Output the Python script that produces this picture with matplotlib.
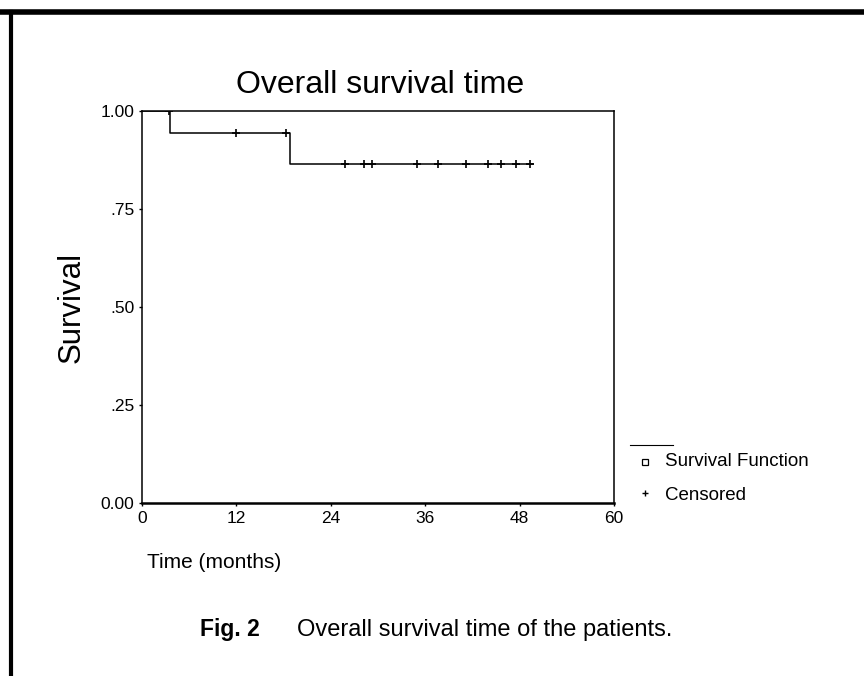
import matplotlib.pyplot as plt
import numpy as np
from matplotlib.lines import Line2D

plt.rcParams['font.family'] = ['Liberation Sans', 'DejaVu Sans']

# Kaplan-Meier steps (time in months, survival)
step_times = [0, 3.6, 18.8, 49.7]
step_surv = [1.0, 0.943, 0.865, 0.865]

# censored observations (months)
censor_times = [3.45, 12.0, 18.3, 25.75, 28.2, 29.25, 35.0, 37.6, 41.2, 44.0, 45.65, 47.6, 49.3]

x_ticks = [0, 12, 24, 36, 48, 60]
y_ticks = [0.0, 0.25, 0.5, 0.75, 1.0]
y_labels = ['0.00', '.25', '.50', '.75', '1.00']


def surv_at(t):
    idx = np.searchsorted(step_times, t, side='right') - 1
    return step_surv[idx]


fig = plt.figure(figsize=(8.64, 6.76), dpi=100)
ax = fig.add_axes([142 / 864, 1 - 503 / 676, 472 / 864, 392 / 676])

ax.step(step_times, step_surv, where='post', color='black', linewidth=1.1)
censor_surv = [surv_at(t) for t in censor_times]
ax.plot(censor_times, censor_surv, linestyle='none', marker='+', color='black',
        markersize=6, markeredgewidth=1.2)

ax.set_xlim(0, 60)
ax.set_ylim(0, 1.0)
ax.set_xticks(x_ticks)
ax.set_yticks(y_ticks)
ax.set_yticklabels(y_labels)
ax.tick_params(direction='out', length=2.5, width=1, labelsize=12.5, pad=3)
for s in ax.spines.values():
    s.set_linewidth(1.1)
ax.spines['bottom'].set_linewidth(1.8)

fig.text(380 / 864, 1 - 93 / 676, 'Overall survival time', fontsize=23, ha='center', va='baseline')
ax.set_ylabel('Survival', fontsize=22.5, labelpad=10)

fig.text(147 / 864, 1 - 568 / 676, 'Time (months)', fontsize=15, va='baseline', ha='left')
fig.text(200 / 864, 1 - 636 / 676, 'Fig. 2', fontsize=16.5, fontweight='bold', va='baseline', ha='left')
fig.text(297 / 864, 1 - 636 / 676, 'Overall survival time of the patients.', fontsize=17,
         va='baseline', ha='left')

# legend drawn by hand
fig.add_artist(Line2D([630 / 864, 673 / 864], [1 - 445 / 676, 1 - 445 / 676],
                      color='black', linewidth=0.8))
fig.add_artist(Line2D([645 / 864], [1 - 462 / 676], marker='s', markersize=4,
                      markerfacecolor='white', markeredgecolor='black', markeredgewidth=0.9))
fig.add_artist(Line2D([645 / 864], [1 - 493 / 676], marker='+', markersize=5,
                      color='black', markeredgewidth=1))
fig.text(665 / 864, 1 - 462 / 676, 'Survival Function', fontsize=13.5, va='center', ha='left')
fig.text(665 / 864, 1 - 495 / 676, 'Censored', fontsize=13.5, va='center', ha='left')

# page border
fig.add_artist(Line2D([0, 1], [1 - 12 / 676, 1 - 12 / 676], color='black', linewidth=4))
fig.add_artist(Line2D([11 / 864, 11 / 864], [0, 1 - 12 / 676], color='black', linewidth=3))

fig.savefig('out.png', dpi=100)
